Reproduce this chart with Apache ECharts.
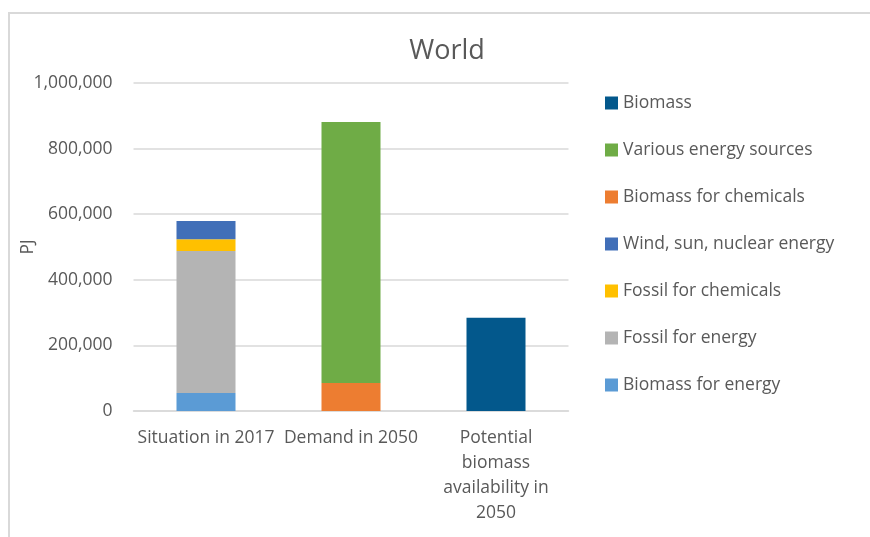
<!DOCTYPE html>
<html>
<head>
<meta charset="utf-8">
<script src="https://cdn.jsdelivr.net/npm/echarts@6/dist/echarts.min.js"></script>
<style>
html,body{margin:0;padding:0;background:#fff;}
#frame{position:absolute;left:8px;top:12px;width:862px;height:525px;border-left:2px solid #d9d9d9;border-top:2px solid #d9d9d9;box-sizing:border-box;}
#chart{position:absolute;left:0;top:0;width:870px;height:537px;}
</style>
</head>
<body>
<div id="frame"></div>
<div id="chart"></div>
<script>
const categories = ['Situation in 2017', 'Demand in 2050', 'Potential\nbiomass\navailability in\n2050'];
const biomassForEnergy = [55000, null, null];
const fossilForEnergy = [433000, null, null];
const fossilForChemicals = [36000, null, null];
const windSunNuclear = [55000, null, null];
const biomassForChemicals = [null, 85000, null];
const variousEnergySources = [null, 796000, null];
const biomass = [null, null, 284000];
const yTicks = [0, 200000, 400000, 600000, 800000, 1000000];

const FONT = '"Open Sans", "Noto Sans", sans-serif';
const TXT = '#595959';
const FS = 17.5;

const seriesDefs = [
  ['Biomass for energy', biomassForEnergy, '#5b9bd5'],
  ['Fossil for energy', fossilForEnergy, '#b4b4b4'],
  ['Fossil for chemicals', fossilForChemicals, '#ffc000'],
  ['Wind, sun, nuclear energy', windSunNuclear, '#416fb8'],
  ['Biomass for chemicals', biomassForChemicals, '#ed7d31'],
  ['Various energy sources', variousEnergySources, '#6fac46'],
  ['Biomass', biomass, '#03588c']
];

const chart = echarts.init(document.getElementById('chart'), null, {renderer: 'canvas'});
chart.setOption({
  animation: false,
  backgroundColor: 'transparent',
  title: {
    text: 'World',
    left: 447, top: 38, textAlign: 'center', padding: 0,
    textStyle: {fontFamily: FONT, fontSize: 27, fontWeight: 'normal', color: TXT}
  },
  legend: {
    orient: 'vertical',
    left: 605, top: 93, padding: 0,
    itemWidth: 13, itemHeight: 13, itemGap: 27,
    icon: 'rect',
    data: seriesDefs.map(s => s[0]).reverse(),
    textStyle: {fontFamily: FONT, fontSize: FS, color: TXT, lineHeight: 20}
  },
  grid: {left: 133.5, right: 301.5, top: 83, bottom: 126, containLabel: false},
  xAxis: {
    type: 'category',
    data: categories,
    axisLine: {lineStyle: {color: '#d9d9d9', width: 1.5}},
    axisTick: {show: false},
    axisLabel: {fontFamily: FONT, fontSize: FS, color: TXT, lineHeight: 25, margin: 15, interval: 0}
  },
  yAxis: {
    type: 'value',
    min: yTicks[0], max: yTicks[yTicks.length - 1], interval: yTicks[1] - yTicks[0],
    name: 'PJ', nameLocation: 'middle', nameGap: 96, nameMoveOverlap: false,
    nameTextStyle: {fontFamily: FONT, fontSize: FS, color: TXT},
    axisLine: {show: false}, axisTick: {show: false},
    splitLine: {lineStyle: {color: '#d9d9d9', width: 1.5}},
    axisLabel: {
      fontFamily: FONT, fontSize: FS, color: TXT, margin: 21,
      formatter: v => v.toLocaleString('en-US')
    }
  },
  series: seriesDefs.map(([name, data, color]) => ({
    name, type: 'bar', stack: 'total', data, barWidth: 59,
    itemStyle: {color}
  }))
});
</script>
</body>
</html>
